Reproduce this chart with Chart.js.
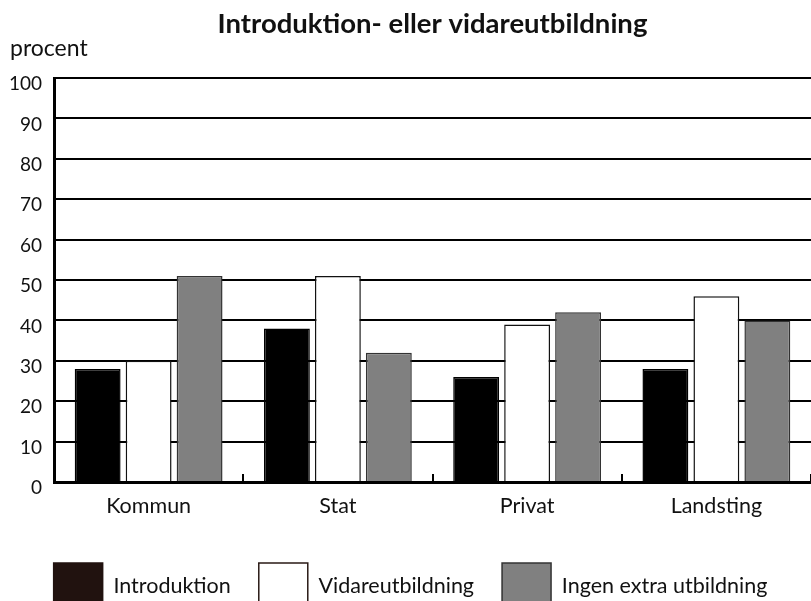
<!DOCTYPE html>
<html>
<head>
<meta charset="utf-8">
<script src="https://cdn.jsdelivr.net/npm/chart.js@4.4.1/dist/chart.umd.min.js"></script>
<style>
  html, body { margin: 0; padding: 0; background: #fff; }
  #wrap { width: 811px; height: 601px; }
</style>
</head>
<body>
<div id="wrap"><canvas id="chart" width="811" height="601"></canvas></div>
<script>
// --- Data ---
const categories = ['Kommun', 'Stat', 'Privat', 'Landsting'];
const introduktion = [28, 38, 26, 28];
const vidareutbildning = [30, 51, 39, 46];
const ingenExtra = [51, 32, 42, 40];
const yTicks = [0, 10, 20, 30, 40, 50, 60, 70, 80, 90, 100];

const FONT = 'Lato, "Open Sans", sans-serif';

const ctx = document.getElementById('chart').getContext('2d');
new Chart(ctx, {
  type: 'bar',
  data: {
    labels: categories,
    datasets: [
      { label: 'Introduktion', data: introduktion, backgroundColor: '#000', borderColor: '#000', borderWidth: 1.5 },
      { label: 'Vidareutbildning', data: vidareutbildning, backgroundColor: '#fff', borderColor: '#111', borderWidth: 1.5 },
      { label: 'Ingen extra utbildning', data: ingenExtra, backgroundColor: '#808080', borderColor: '#333', borderWidth: 1.5 }
    ]
  },
  options: {
    responsive: false,
    animation: false,
    layout: { padding: { left: 10, right: 0, top: 0, bottom: 0 } },
    datasets: { bar: { categoryPercentage: 0.808, barPercentage: 0.9 } },
    plugins: {
      title: {
        display: true,
        fullSize: false,
        text: 'Introduktion- eller vidareutbildning',
        color: '#111',
        font: { family: FONT, size: 27.5, weight: 'bold', lineHeight: 1 },
        padding: { top: 10, bottom: 0 }
      },
      subtitle: {
        display: true,
        align: 'start',
        text: 'procent',
        color: '#111',
        font: { family: FONT, size: 23, lineHeight: 1 },
        padding: { top: 0, bottom: 17.5 }
      },
      legend: {
        position: 'bottom',
        maxHeight: 66,
        labels: {
          color: '#111',
          font: { family: FONT, size: 21.5 },
          boxWidth: 49,
          boxHeight: 46,
          padding: 28,
          generateLabels: (chart) => {
            const items = Chart.defaults.plugins.legend.labels.generateLabels(chart);
            items[0].fillStyle = '#21120f';
            items[0].strokeStyle = '#21120f';
            items[1].strokeStyle = '#2a1a16';
            return items;
          }
        }
      },
      tooltip: { enabled: false }
    },
    scales: {
      x: {
        grid: { display: true, offset: true, drawOnChartArea: false, drawTicks: true, tickLength: -8, color: '#000', lineWidth: 2 },
        border: { display: true, color: '#000', width: 3 },
        ticks: { color: '#111', font: { family: FONT, size: 21.5 }, padding: 19 },
        afterFit: (scale) => { scale.height = 53; }
      },
      y: {
        min: 0,
        max: 100,
        afterBuildTicks: (scale) => { scale.ticks = yTicks.map(v => ({ value: v })); },
        grid: { color: '#000', lineWidth: 2, drawTicks: false },
        border: { display: true, color: '#000', width: 3 },
        ticks: { color: '#111', font: { family: FONT, size: 19 }, padding: 12, labelOffset: 6 },
        afterFit: (scale) => { scale.width = 44; }
      }
    }
  }
});
</script>
</body>
</html>
